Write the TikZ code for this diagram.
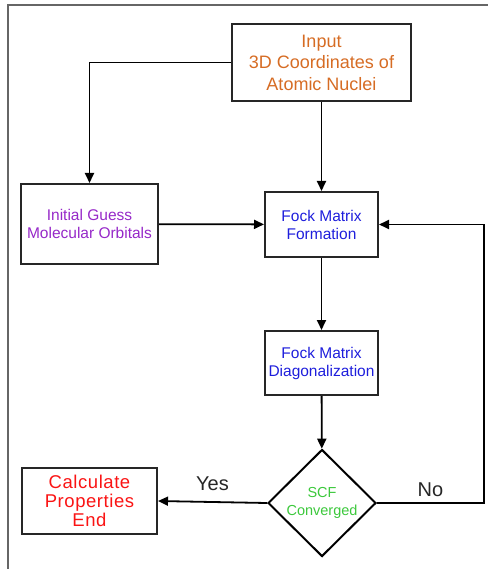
\documentclass[tikz,border=0pt]{standalone}
\usepackage{fontspec}
\setmainfont{Liberation Sans}
\newfontfamily\spacedfont[LetterSpace=3]{Liberation Sans}
\usetikzlibrary{shapes.geometric,arrows.meta}
\definecolor{inorange}{RGB}{214,108,36}
\definecolor{guesspurple}{RGB}{150,40,200}
\definecolor{fockblue}{RGB}{30,30,220}
\definecolor{scfgreen}{RGB}{60,200,60}
\definecolor{endred}{RGB}{250,20,20}

\begin{document}
\begin{tikzpicture}[x=1pt,y=-1pt,->,>={Triangle[length=10pt,width=9pt]},line width=1.8pt,
  box/.style={rectangle,draw=black!85,line width=2pt,align=center,inner sep=0pt},
  test/.style={diamond,draw=black,line width=2pt,align=center,inner sep=0pt,minimum width=108pt,minimum height=107pt},
  lbl/.style={font=\fontsize{20}{22}\selectfont,text=black!85}]
  \useasboundingbox (0,0) rectangle (488,569);
  % frame
  \draw[-,line width=1.5pt,black!60] (8,569) -- (8,5) -- (488,5);

  \node[box,minimum width=179pt,minimum height=77pt,text=inorange,font=\fontsize{18}{21.5}\selectfont] (input) at (321.5,62.5) {Input\\3D Coordinates of\\Atomic Nuclei};
  \node[box,minimum width=137pt,minimum height=80pt,text=guesspurple,font=\fontsize{15.5}{18}\selectfont] (guess) at (89.5,224) {Initial Guess\\Molecular Orbitals};
  \node[box,minimum width=113pt,minimum height=65pt,text=fockblue,font=\fontsize{15.5}{18}\selectfont] (form) at (321.5,224.5) {Fock Matrix\\Formation};
  \node[box,minimum width=113pt,minimum height=64pt,text=fockblue,font=\fontsize{15.5}{18}\selectfont] (diag) at (321.5,363) {Fock Matrix\\Diagonalization};
  \node[test,text=scfgreen,font=\fontsize{14.5}{18}\selectfont] (conv) at (322,503) {SCF\\Converged};
  \node[box,minimum width=135pt,minimum height=66pt,text=endred,font=\spacedfont\fontsize{18.5}{19}\selectfont] (calc) at (89.5,501) {Calculate\\Properties\\End};

  \coordinate (back) at (484,229);

  \draw (input.west) -| (guess.north);
  \draw (input) -- (form);
  \draw (guess) -- (form);
  \draw (form) -- (diag);
  \draw (diag) -- (conv);
  \draw (conv.west) -- node[lbl,above=7pt] {Yes} (calc.east);
  \draw (conv.east) -- node[lbl,above=2pt] {No} (conv.east -| back) |- (form.east);
\end{tikzpicture}
\end{document}
